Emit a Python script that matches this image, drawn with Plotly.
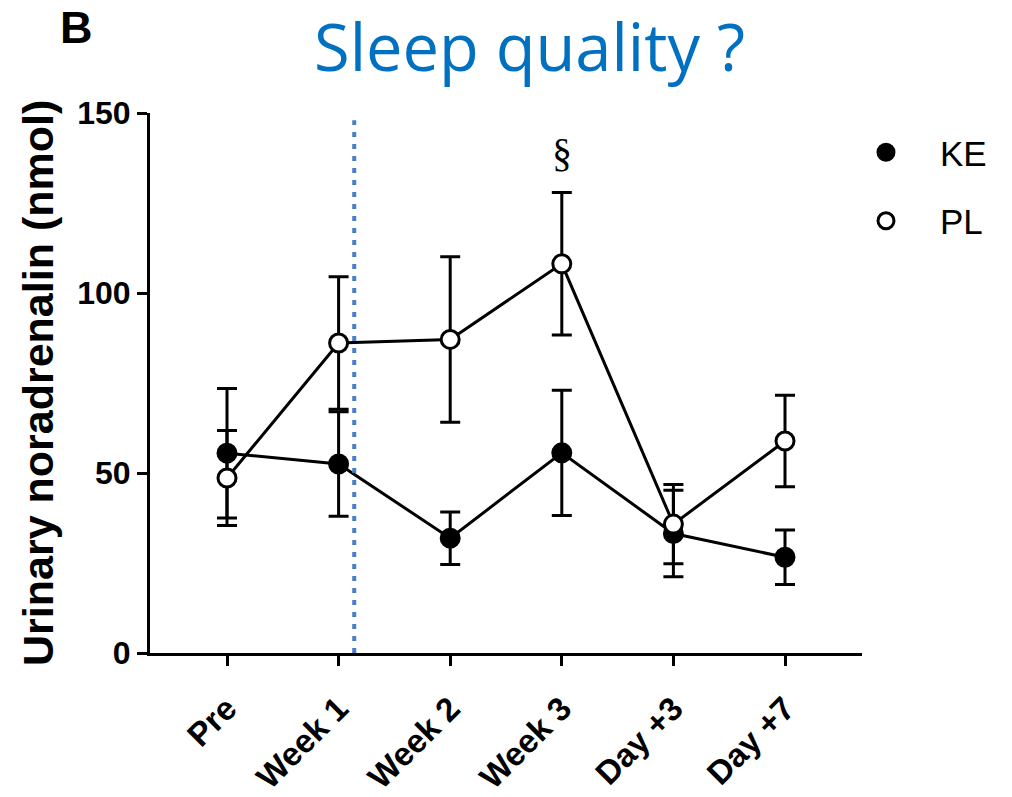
import plotly.graph_objects as go

categories = ["Pre", "Week 1", "Week 2", "Week 3", "Day +3", "Day +7"]
ke_mean = [55.5, 52.5, 31.9, 55.6, 33.2, 26.6]
ke_err = [18.0, 14.5, 7.3, 17.4, 12.0, 7.6]
pl_mean = [48.6, 86.1, 87.1, 108.1, 35.8, 58.9]
pl_err = [13.2, 18.4, 23.0, 19.8, 11.0, 12.7]
y_ticks = [0, 50, 100, 150]
vline_x = 1.14
vline_top = 148
sig_label = "§"
sig_index = 3
sig_y = 139

xpos = list(range(len(categories)))
FONT = "Liberation Sans, Arial, sans-serif"

fig = go.Figure()

def add_series(name, mean, err, fill):
    fig.add_trace(go.Scatter(
        x=xpos, y=mean, mode="lines+markers", showlegend=False,
        line=dict(color="black", width=3),
        marker=dict(size=18, color=fill, line=dict(color="black", width=3)),
        error_y=dict(type="data", array=err, visible=True, color="black",
                     thickness=3, width=10),
    ))

add_series("KE", ke_mean, ke_err, "black")
add_series("PL", pl_mean, pl_err, "white")

# legend-only entries
for name, fill, grp in [("KE", "black", "a"), ("PL", "white", "b")]:
    fig.add_trace(go.Scatter(
        x=[None], y=[None], mode="markers", name=name, legendgroup=grp,
        marker=dict(size=16, color=fill, line=dict(color="black", width=3)),
    ))

fig.add_shape(type="line", xref="x", yref="y", x0=vline_x, x1=vline_x,
              y0=0, y1=vline_top,
              line=dict(color="#4a7fc4", width=4, dash="5px,7px"))

fig.add_annotation(x=sig_index, y=sig_y, xref="x", yref="y", text=sig_label,
                   showarrow=False, xanchor="center", yanchor="middle",
                   font=dict(family="Liberation Serif, Times New Roman, serif",
                             size=40, color="black"))

fig.add_annotation(x=(529 - 150) / 712, y=(653 - 0) / 540, xref="paper", yref="paper",
                   text="Sleep quality ?", showarrow=False,
                   xanchor="center", yanchor="top",
                   font=dict(family="Open Sans, sans-serif", size=65, color="#0070C0"))

fig.add_annotation(x=(58 - 150) / 712, y=(653 - 0) / 540, xref="paper", yref="paper",
                   text="B", showarrow=False, xanchor="left", yanchor="top",
                   font=dict(family=FONT, size=45, color="black", weight="bold"))

fig.add_annotation(x=(38 - 150) / 712, y=0.5, xref="paper", yref="paper",
                   text="Urinary noradrenalin (nmol)", showarrow=False, textangle=-90,
                   xanchor="center", yanchor="middle",
                   font=dict(family=FONT, size=43, color="black", weight="bold"))

fig.update_layout(
    width=1012, height=797,
    margin=dict(l=150, r=150, t=113, b=144),
    paper_bgcolor="white", plot_bgcolor="white",
    showlegend=True,
    legend=dict(x=(832 - 150) / 712, y=(653 - 123) / 540, xanchor="left", yanchor="top",
                font=dict(family=FONT, size=35, color="black"),
                tracegroupgap=20, itemwidth=98, bgcolor="rgba(0,0,0,0)"),
    xaxis=dict(range=[-0.69, 5.69], tickvals=xpos, ticktext=categories,
               tickangle=-45, showline=True, linecolor="black", linewidth=3,
               ticks="outside", ticklen=10, tickwidth=3, tickcolor="black",
               ticklabelstandoff=10, automargin=False,
               showgrid=False, zeroline=False,
               tickfont=dict(family=FONT, size=33, color="black", weight="bold")),
    yaxis=dict(range=[0, 150], tickvals=y_ticks, showline=True, linecolor="black",
               linewidth=3, ticks="outside", ticklen=10, tickwidth=3, tickcolor="black",
               automargin=False,
               showgrid=False, zeroline=False,
               tickfont=dict(family=FONT, size=32, color="black", weight="bold")),
)

fig.write_html("out.html")
